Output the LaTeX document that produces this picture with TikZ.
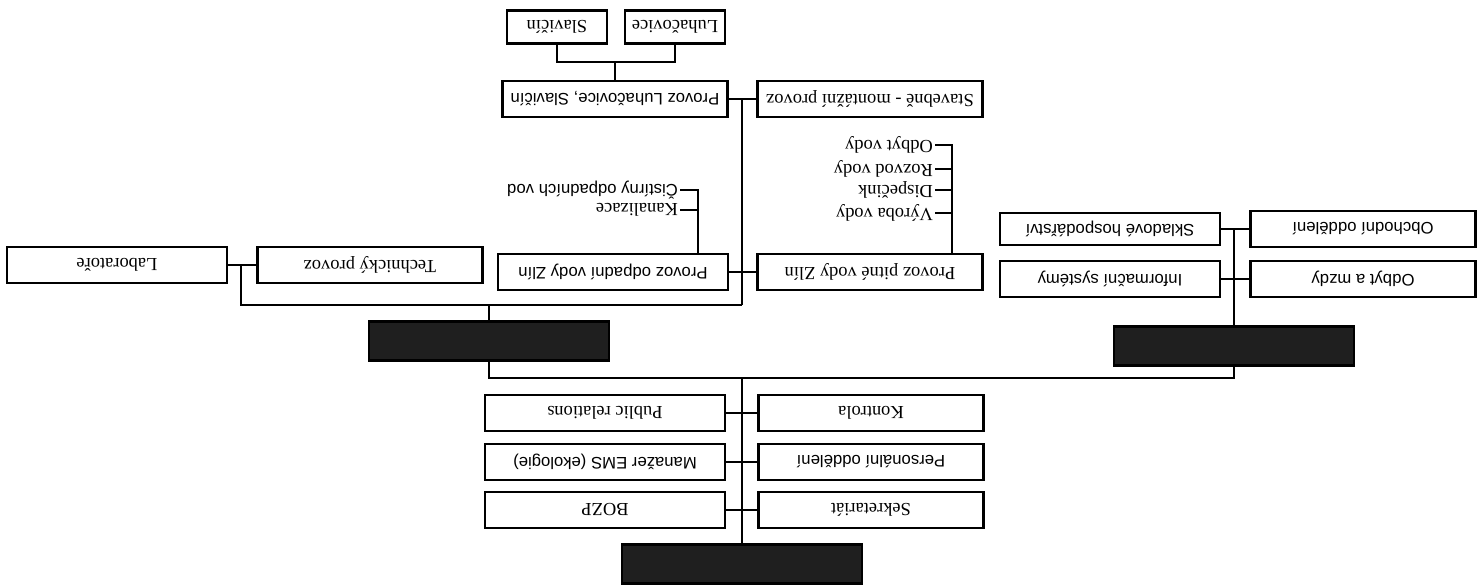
\documentclass[tikz,border=0pt]{standalone}
\usepackage{fontspec}
\setmainfont{Liberation Serif}
\newfontfamily\arialfont{Liberation Sans}
\usetikzlibrary{positioning}

\begin{document}
\begin{tikzpicture}[x=0.02cm, y=-0.02cm,
    box/.style={draw, rectangle, line width=1.3pt, minimum width=4.5cm, minimum height=0.72cm, inner sep=2pt, font=\fontsize{10.5}{12}\selectfont},
    sbox/.style={box, font=\arialfont\fontsize{9.5}{11}\selectfont},
    small/.style={box, minimum width=2cm, minimum height=0.66cm},
    dark/.style={draw, rectangle, line width=1.3pt, fill=black!88, minimum width=4.8cm, minimum height=0.78cm},
    item/.style={anchor=west, inner sep=1pt, font=\fontsize{10.5}{12}\selectfont},
    link/.style={line width=0.8pt}]
\useasboundingbox (0,0) rectangle (1484,586);
% the whole chart is drawn upright, then turned upside down
\begin{scope}[shift={(1484,586)}, rotate=180, transform shape]
    % top level
    \node[dark] (head) at (742,22) {};
    \node[box] (sekret) at (613,76) {Sekretariát};
    \node[sbox] (personal) at (613,124) {Personální oddělení};
    \node[box] (kontrola) at (613,173) {Kontrola};
    \node[box, minimum width=4.8cm] (bozp) at (879,76) {BOZP};
    \node[sbox, minimum width=4.8cm] (ems) at (879,124) {Manažer EMS (ekologie)};
    \node[box, minimum width=4.8cm] (pr) at (879,173) {Public relations};

    \coordinate (t1) at (742,208);
    \draw[link] (head.south) -- (t1);
    \draw[link] (sekret.east) -- (bozp.west);
    \draw[link] (personal.east) -- (ems.west);
    \draw[link] (kontrola.east) -- (pr.west);

    % second level
    \node[dark] (ekon) at (250,240) {};
    \node[dark] (tech) at (995,245) {};
    \draw[link] (ekon.north) -- (ekon.north |- t1) -- (tech.north |- t1) -- (tech.north);

    % economy branch
    \node[sbox, minimum width=4.5cm] (odbyt) at (121,307) {Odbyt a mzdy};
    \node[sbox, minimum width=4.4cm] (inform) at (374,307) {Informační systémy};
    \node[sbox, minimum width=4.5cm] (obchod) at (121,357) {Obchodní oddělení};
    \node[sbox, minimum width=4.4cm, minimum height=0.64cm] (sklad) at (374,357) {Skladové hospodářství};
    \draw[link] (odbyt.east) -- (inform.west);
    \draw[link] (obchod.east) -- (sklad.west);
    \draw[link] (ekon.south) -- (ekon.south |- sklad.west);

    % technical branch
    \coordinate (t2) at (742,281);
    \coordinate (t3) at (1243,281);
    \node[box] (pitna) at (614,314) {Provoz pitné vody Zlín};
    \node[sbox, minimum width=4.6cm] (odpadni) at (871,314) {Provoz odpadní vody Zlín};
    \node[box] (techprov) at (1114,321) {Technický provoz};
    \node[box, minimum width=4.4cm] (lab) at (1367,321) {Laboratoře};
    \draw[link] (tech.south) -- (tech.south |- t2);
    \draw[link] (t2) -- (t3) -- (t3 |- lab.west);
    \draw[link] (techprov.east) -- (lab.west);
    \draw[link] (pitna.east) -- (odpadni.west);

    \node[box] (stav) at (614,487) {Stavebně - montážní provoz};
    \node[sbox] (luhprov) at (869,487) {Provoz Luhačovice, Slavičín};
    \draw[link] (t2) -- (t2 |- stav.east);
    \draw[link] (stav.east) -- (luhprov.west);

    % drinking water
    \coordinate (ptap) at (532,333);
    \node[item] (vyroba) at (549,373) {Výroba vody};
    \node[item] (dispecink) at (549,396) {Dispečink};
    \node[item] (rozvod) at (549,417) {Rozvod vody};
    \node[item] (odbytv) at (549,441) {Odbyt vody};
    \draw[link] (ptap) |- (odbytv.west);
    \foreach \n in {vyroba, dispecink, rozvod}
        \draw[link] (\n.west) -- (\n.west -| ptap);

    % waste water
    \coordinate (otap) at (786,333);
    \node[item] (kanal) at (804,376) {Kanalizace};
    \node[item, font=\arialfont\fontsize{9.5}{11}\selectfont] (cistirny) at (804,396) {Čistírny odpadních vod};
    \draw[link] (otap) |- (cistirny.west);
    \draw[link] (kanal.west) -- (kanal.west -| otap);

    % Luhačovice, Slavičín
    \coordinate (lj) at (869,524);
    \node[small] (luhac) at (809,559) {Luhačovice};
    \node[small] (slav) at (927,559) {Slavičín};
    \draw[link] (luhprov.south) -- (lj);
    \draw[link] (luhac.north) |- (lj) -| (slav.north);
\end{scope}
\end{tikzpicture}
\end{document}
